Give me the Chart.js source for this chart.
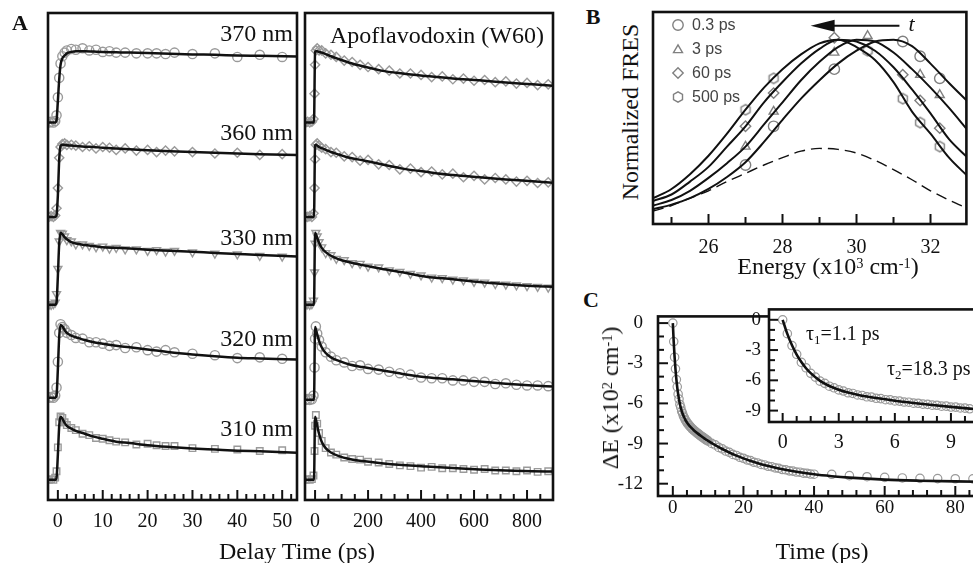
<!DOCTYPE html>
<html>
<head>
<meta charset="utf-8">
<script src="https://cdn.jsdelivr.net/npm/chart.js@4.4.0/dist/chart.umd.min.js"></script>
<style>
html, body { margin: 0; padding: 0; background: #fff; overflow: hidden; }
#fig { position: relative; width: 973px; height: 563px; overflow: hidden; background: #fff;
       font-family: 'Liberation Serif', 'Times New Roman', serif; color: #111; }
#fig canvas { position: absolute; }
.txt { position: absolute; white-space: nowrap; line-height: 1; font-size: 24px; }
.c { transform: translate(-50%, -50%); }
.r { transform: translate(-100%, -50%); }
.l { transform: translate(0, -50%); }
.rot { transform: translate(-50%, -50%) rotate(-90deg); }
.tag { font-weight: bold; font-size: 22px; }
.txt sup { font-size: 0.6em; position: relative; top: -0.45em; vertical-align: 0; line-height: 0; }
.txt sub { font-size: 0.65em; position: relative; top: 0.3em; vertical-align: 0; line-height: 0; }
</style>
</head>
<body>
<div id="fig">
  <canvas id="aLeft" width="310" height="540" style="left:0;top:0"></canvas>
  <canvas id="aRight" width="270" height="540" style="left:295px;top:0"></canvas>
  <canvas id="bChart" width="328" height="262" style="left:645px;top:0"></canvas>
  <canvas id="cMain" width="396" height="250" style="left:600px;top:290px"></canvas>
  <canvas id="cInset" width="270" height="170" style="left:720px;top:290px"></canvas>

  <div class="txt tag c" style="left:20px;top:23px">A</div>
  <div class="txt tag c" style="left:593px;top:17px">B</div>
  <div class="txt tag c" style="left:591px;top:300px">C</div>

  <div class="txt r" style="left:293px;top:33px">370 nm</div>
  <div class="txt r" style="left:293px;top:132px">360 nm</div>
  <div class="txt r" style="left:293px;top:237px">330 nm</div>
  <div class="txt r" style="left:293px;top:338px">320 nm</div>
  <div class="txt r" style="left:293px;top:428px">310 nm</div>
  <div class="txt c" style="left:437px;top:35px">Apoflavodoxin (W60)</div>
  <div class="txt c" style="left:297px;top:551px">Delay Time (ps)</div>

  <div class="txt rot" style="left:630px;top:112px">Normalized FRES</div>
  <div class="txt c" style="left:828px;top:266px">Energy (x10<sup>3</sup> cm<sup>-1</sup>)</div>

  <div class="txt rot" style="left:610px;top:398px">&Delta;E (x10<sup>2</sup> cm<sup>-1</sup>)</div>
  <div class="txt c" style="left:822px;top:551px">Time (ps)</div>
  <div class="txt l" style="left:806px;top:333px;font-size:20px">&tau;<sub>1</sub>=1.1 ps</div>
  <div class="txt l" style="left:887px;top:368px;font-size:20px">&tau;<sub>2</sub>=18.3 ps</div>
</div>

<script>
// ---------- Panel A: kinetic traces (normalised, one row per wavelength) ----------
const delayL = [-2.2, -0.6, -0.3, 0, 0.3, 0.6, 1, 1.5, 2, 3, 4, 6, 8, 10, 13, 16, 20, 25, 30, 35, 40, 45, 53.3];
const fitL370 = [0, 0, 0.03, 0.3, 0.6, 0.8, 0.89, 0.93, 0.96, 0.98, 0.99, 0.99, 0.985, 0.98, 0.975, 0.97, 0.965, 0.955, 0.945, 0.94, 0.93, 0.925, 0.915];
const fitL360 = [0, 0, 0.02, 0.3, 0.8, 0.98, 1.0, 1.0, 0.995, 0.99, 0.985, 0.975, 0.97, 0.96, 0.95, 0.94, 0.925, 0.91, 0.9, 0.89, 0.88, 0.87, 0.86];
const fitL330 = [0, 0, 0.03, 0.4, 0.85, 1.0, 0.98, 0.94, 0.91, 0.87, 0.85, 0.83, 0.815, 0.8, 0.79, 0.78, 0.765, 0.75, 0.735, 0.72, 0.705, 0.69, 0.67];
const fitL320 = [0, 0, 0.03, 0.4, 0.85, 1.01, 0.99, 0.94, 0.9, 0.86, 0.84, 0.8, 0.77, 0.75, 0.72, 0.7, 0.67, 0.63, 0.6, 0.575, 0.555, 0.545, 0.53];
const fitL310 = [0, 0, 0.03, 0.35, 0.75, 0.875, 0.85, 0.79, 0.75, 0.71, 0.68, 0.64, 0.6, 0.57, 0.53, 0.51, 0.48, 0.455, 0.435, 0.42, 0.405, 0.395, 0.375];

const dotDelayL = [-2, -1.5, -1, -0.6, -0.3, 0, 0.3, 0.6, 1, 1.5, 2, 3, 4, 5.5, 7, 8.5, 10, 11.5, 13, 15, 17.5, 20, 22, 24, 26, 30, 35, 40, 45, 50];
const dotL370 = [0, 0.01, 0, 0.02, 0.1, 0.35, 0.62, 0.82, 0.92, 0.97, 1.0, 1.02, 1.01, 1.03, 1.0, 1.01, 0.98, 0.99, 0.97, 0.97, 0.96, 0.96, 0.96, 0.95, 0.97, 0.95, 0.96, 0.91, 0.94, 0.91];
const dotL360 = [0, 0.01, 0, 0.02, 0.12, 0.4, 0.82, 0.97, 1.01, 1.02, 1.0, 1.0, 0.99, 0.97, 0.98, 0.95, 0.97, 0.96, 0.93, 0.95, 0.92, 0.93, 0.9, 0.92, 0.91, 0.9, 0.88, 0.89, 0.86, 0.87];
const dotL330 = [0, 0, 0.01, 0.03, 0.15, 0.5, 0.88, 1.0, 0.99, 0.95, 0.9, 0.88, 0.84, 0.84, 0.82, 0.8, 0.81, 0.78, 0.79, 0.77, 0.77, 0.75, 0.76, 0.74, 0.75, 0.73, 0.71, 0.7, 0.68, 0.67];
const dotL320 = [0, 0.01, 0, 0.03, 0.14, 0.5, 0.9, 1.02, 0.98, 0.95, 0.9, 0.87, 0.83, 0.82, 0.77, 0.77, 0.75, 0.72, 0.73, 0.69, 0.7, 0.66, 0.64, 0.66, 0.63, 0.61, 0.59, 0.55, 0.56, 0.54];
const dotL310 = [0, 0.01, 0, 0.03, 0.12, 0.45, 0.8, 0.88, 0.86, 0.8, 0.76, 0.72, 0.69, 0.64, 0.62, 0.58, 0.57, 0.55, 0.53, 0.52, 0.49, 0.5, 0.48, 0.47, 0.47, 0.44, 0.43, 0.42, 0.4, 0.41];

const delayR = [-38, -4, 0, 3, 8, 15, 25, 40, 60, 90, 130, 180, 250, 330, 420, 520, 620, 720, 820, 898];
const fitR370 = [0, 0, 0.98, 0.99, 0.99, 0.98, 0.97, 0.95, 0.92, 0.88, 0.83, 0.78, 0.72, 0.68, 0.645, 0.61, 0.585, 0.555, 0.53, 0.51];
const fitR360 = [0, 0, 0.99, 1.0, 0.99, 0.97, 0.955, 0.93, 0.9, 0.865, 0.82, 0.785, 0.73, 0.67, 0.625, 0.58, 0.55, 0.52, 0.495, 0.475];
const fitR330 = [0, 0, 1.0, 0.98, 0.93, 0.86, 0.79, 0.73, 0.68, 0.63, 0.59, 0.55, 0.5, 0.45, 0.39, 0.355, 0.315, 0.285, 0.26, 0.25];
const fitR320 = [0, 0, 1.01, 0.98, 0.91, 0.82, 0.73, 0.65, 0.59, 0.54, 0.49, 0.455, 0.41, 0.36, 0.315, 0.285, 0.255, 0.225, 0.2, 0.185];
const fitR310 = [0, 0, 0.875, 0.84, 0.75, 0.64, 0.53, 0.44, 0.38, 0.33, 0.29, 0.26, 0.23, 0.205, 0.185, 0.165, 0.145, 0.13, 0.12, 0.115];

const dotDelayR = [-35, -28, -20, -12, -6, -2, 0, 3, 8, 15, 25, 40, 60, 80, 110, 140, 170, 200, 240, 280, 320, 360, 400, 440, 480, 520, 560, 600, 640, 680, 720, 760, 800, 840, 880];
const dotR370 = [0, 0.01, 0, 0.01, 0.05, 0.4, 0.8, 1.0, 1.03, 1.0, 1.0, 0.96, 0.94, 0.91, 0.86, 0.84, 0.8, 0.77, 0.74, 0.72, 0.68, 0.68, 0.66, 0.63, 0.64, 0.6, 0.61, 0.58, 0.59, 0.56, 0.57, 0.54, 0.55, 0.52, 0.53];
const dotR360 = [0, 0, 0.01, 0, 0.05, 0.4, 0.8, 1.0, 1.02, 0.99, 0.96, 0.94, 0.9, 0.89, 0.84, 0.83, 0.78, 0.79, 0.73, 0.72, 0.66, 0.67, 0.62, 0.63, 0.59, 0.6, 0.55, 0.57, 0.52, 0.54, 0.52, 0.49, 0.5, 0.47, 0.48];
const dotR330 = [0, 0.01, 0, 0.01, 0.06, 0.45, 0.85, 1.0, 0.95, 0.87, 0.8, 0.72, 0.69, 0.64, 0.62, 0.58, 0.57, 0.53, 0.52, 0.48, 0.46, 0.43, 0.41, 0.38, 0.37, 0.35, 0.34, 0.32, 0.31, 0.29, 0.28, 0.27, 0.26, 0.25, 0.24];
const dotR320 = [0, 0.01, 0, 0.01, 0.06, 0.45, 0.85, 1.02, 0.92, 0.83, 0.74, 0.66, 0.6, 0.55, 0.52, 0.47, 0.48, 0.43, 0.42, 0.39, 0.37, 0.35, 0.31, 0.3, 0.3, 0.27, 0.27, 0.25, 0.25, 0.22, 0.23, 0.21, 0.2, 0.2, 0.19];
const dotR310 = [0, 0.01, 0, 0.01, 0.06, 0.4, 0.75, 0.9, 0.78, 0.65, 0.54, 0.44, 0.38, 0.35, 0.31, 0.29, 0.28, 0.25, 0.24, 0.22, 0.2, 0.19, 0.17, 0.18, 0.16, 0.16, 0.15, 0.14, 0.15, 0.13, 0.13, 0.12, 0.13, 0.11, 0.12];

// ---------- Panel B: normalised emission spectra ----------
const energy = [24.5, 25, 25.5, 26, 26.5, 27, 27.5, 28, 28.5, 29, 29.5, 30, 30.5, 31, 31.5, 32, 32.5, 33];
const fres03 = [0.08, 0.105, 0.14, 0.19, 0.255, 0.335, 0.445, 0.565, 0.68, 0.78, 0.87, 0.94, 0.99, 1.0, 0.965, 0.87, 0.765, 0.665];
const fres3 = [0.10, 0.13, 0.18, 0.25, 0.33, 0.42, 0.54, 0.66, 0.78, 0.88, 0.96, 1.0, 0.99, 0.93, 0.84, 0.74, 0.63, 0.51];
const fres60 = [0.125, 0.16, 0.23, 0.31, 0.42, 0.53, 0.66, 0.77, 0.87, 0.95, 1.0, 0.99, 0.94, 0.85, 0.73, 0.6, 0.46, 0.36];
const fres500 = [0.14, 0.19, 0.27, 0.37, 0.49, 0.62, 0.74, 0.84, 0.92, 0.98, 1.0, 0.96, 0.89, 0.77, 0.61, 0.49, 0.36, 0.26];
const fresDashed = [0.07, 0.10, 0.14, 0.18, 0.23, 0.275, 0.32, 0.36, 0.395, 0.41, 0.405, 0.385, 0.345, 0.295, 0.24, 0.18, 0.13, 0.085];

const energyDots = [27.0, 27.76, 29.4, 30.3, 31.25, 31.72, 32.25];
const dot03 = [0.32, 0.53, 0.84, null, 0.99, 0.91, 0.79];
const dot3 = [0.42, 0.61, 0.93, 1.02, null, 0.81, 0.70];
const dot60 = [0.53, 0.71, 1.01, null, 0.81, 0.67, 0.52];
const dot500 = [0.62, 0.79, null, 0.94, 0.68, 0.55, 0.42];
const spectraLabels = ['0.3 ps', '3 ps', '60 ps', '500 ps'];

// ---------- Panel C: spectral shift ----------
const shiftFitTime = [0, 0.25, 0.5, 0.75, 1, 1.25, 1.5, 2, 2.5, 3, 3.5, 4, 4.5, 5, 6, 7, 8, 9, 10, 12, 14, 16, 18, 20, 22, 25, 28, 30, 35, 40, 45, 50, 60, 70, 80, 90];
const shiftFit = [0, -1.40, -2.53, -3.45, -4.19, -4.80, -5.29, -6.05, -6.56, -6.93, -7.21, -7.43, -7.61, -7.76, -8.02, -8.24, -8.44, -8.63, -8.80, -9.12, -9.41, -9.67, -9.90, -10.11, -10.29, -10.54, -10.74, -10.86, -11.11, -11.30, -11.44, -11.55, -11.70, -11.78, -11.83, -11.86];

const shiftTime = [0, 0.25, 0.5, 0.75, 1, 1.25, 1.5, 1.75, 2, 2.25, 2.5, 2.75, 3, 3.25, 3.5, 3.75, 4, 4.25, 4.5, 4.75,
  5, 5.25, 5.5, 5.75, 6, 6.25, 6.5, 6.75, 7, 7.25, 7.5, 7.75, 8, 8.25, 8.5, 8.75, 9, 9.25, 9.5, 9.75, 10,
  11, 12, 13, 14, 15, 16, 17, 18, 19, 20, 21, 22, 23, 24, 25, 26, 27, 28, 29, 30, 31, 32, 33, 34, 35, 36, 37, 38, 39, 40,
  45, 50, 55, 60, 65, 70, 75, 80, 85, 90];
const shiftData = [0, -1.38, -2.55, -3.42, -4.22, -4.76, -5.31, -5.68, -6.08, -6.30, -6.58, -6.74, -6.95, -7.06, -7.23, -7.30, -7.45, -7.50, -7.63, -7.66,
  -7.78, -7.81, -7.92, -7.94, -8.04, -8.06, -8.15, -8.17, -8.26, -8.27, -8.36, -8.38, -8.46, -8.47, -8.56, -8.56, -8.65, -8.66, -8.74, -8.75, -8.82,
  -8.99, -9.10, -9.29, -9.40, -9.56, -9.66, -9.81, -9.89, -10.03, -10.10, -10.22, -10.28, -10.40, -10.45, -10.56, -10.60, -10.70, -10.73, -10.82, -10.85,
  -10.94, -10.96, -11.04, -11.06, -11.13, -11.14, -11.21, -11.22, -11.28, -11.29,
  -11.30, -11.40, -11.48, -11.53, -11.57, -11.60, -11.62, -11.63, -11.64, -11.65];

// ---------- styling ----------
const SERIF = "'Liberation Serif', 'Times New Roman', serif";
const INK = '#111';
const DOT = '#9a9a9a';
const DOT_B = '#808080';
Chart.defaults.font.family = SERIF;
Chart.defaults.color = INK;

// vertical stacking of the wavelength rows inside panel A
const rowShiftL = [5.24, 3.93, 2.71, 1.42, 0.28];
const rowShiftR = [5.24, 3.93, 2.71, 1.39, 0.28];

function pts(xs, ys, shift) {
  const out = [];
  xs.forEach((x, i) => {
    if (ys[i] !== null) out.push({ x: x, y: ys[i] + (shift || 0) });
  });
  return out;
}

function hexagon(r, color, lw) {
  const c = document.createElement('canvas');
  const s = Math.ceil(2 * r + lw + 2);
  c.width = s; c.height = s;
  const g = c.getContext('2d');
  g.strokeStyle = color; g.lineWidth = lw;
  g.beginPath();
  for (let k = 0; k < 6; k++) {
    const a = Math.PI / 6 + k * Math.PI / 3;
    const px = s / 2 + r * Math.cos(a), py = s / 2 + r * Math.sin(a);
    if (k) g.lineTo(px, py); else g.moveTo(px, py);
  }
  g.closePath(); g.stroke();
  return c;
}
const hexMark = hexagon(5.2, DOT_B, 1.4);

const isMult = (v, m) => Math.abs(v / m - Math.round(v / m)) < 1e-6;

// box around the plot area plus inward tick marks taken from the scales
const framePlugin = {
  id: 'frame',
  beforeDraw(chart, args, opts) {
    if (!opts.fill) return;
    const a = chart.chartArea, ctx = chart.ctx;
    ctx.save();
    ctx.fillStyle = '#fff';
    ctx.fillRect(a.left, a.top, a.right - a.left, a.bottom - a.top);
    ctx.restore();
  },
  afterDraw(chart, args, opts) {
    const { ctx, chartArea: a } = chart;
    ctx.save();
    ctx.strokeStyle = INK;
    ctx.lineWidth = opts.tickWidth || 2;
    ['x', 'y'].forEach(id => {
      const t = opts[id];
      if (!t) return;
      const scale = chart.scales[id];
      scale.ticks.forEach(tk => {
        const p = scale.getPixelForValue(tk.value);
        const len = t.major(tk.value) ? t.long : t.short;
        if (id === 'x') {
          if (p < a.left + 2 || p > a.right - 2) return;
          ctx.beginPath(); ctx.moveTo(p, a.bottom); ctx.lineTo(p, a.bottom - len); ctx.stroke();
        } else {
          if (p < a.top + 2 || p > a.bottom - 2) return;
          ctx.beginPath(); ctx.moveTo(a.left, p); ctx.lineTo(a.left + len, p); ctx.stroke();
        }
      });
    });
    ctx.lineWidth = opts.width || 2.6;
    ctx.strokeRect(a.left, a.top, a.right - a.left, a.bottom - a.top);
    ctx.restore();
  }
};

function xAxis(min, max, step, major, padding, height, size) {
  return {
    type: 'linear', min: min, max: max,
    grid: { display: false, drawTicks: false },
    border: { display: false },
    ticks: {
      stepSize: step, autoSkip: false, maxRotation: 0, includeBounds: false,
      padding: padding, color: INK, font: { size: size || 20 },
      callback: v => major(v) ? String(v) : ''
    },
    afterFit: s => { s.height = height; }
  };
}

function yAxis(min, max, step, major, padding, width, size) {
  return {
    type: 'linear', min: min, max: max,
    grid: { display: false, drawTicks: false },
    border: { display: false },
    ticks: {
      stepSize: step, autoSkip: false, includeBounds: false,
      padding: padding, color: INK, font: { size: size || 19 },
      callback: v => major(v) ? String(v) : ''
    },
    afterFit: s => { s.width = width; }
  };
}

const baseOptions = {
  responsive: false, animation: false, events: [],
};

function tracePanel(id, pad, xMin, xMax, step, major, fitX, fits, dotX, dots, shifts, shapes) {
  const datasets = [];
  fits.forEach((f, i) => datasets.push({
    data: pts(fitX, f, shifts[i]), showLine: true, borderColor: INK, borderWidth: 2.5,
    pointRadius: 0, cubicInterpolationMode: 'monotone', order: 1
  }));
  dots.forEach((d, i) => datasets.push({
    data: pts(dotX, d, shifts[i]), showLine: false,
    pointStyle: shapes[i][0], rotation: shapes[i][1], pointRadius: 4.6,
    borderColor: DOT, backgroundColor: 'rgba(0,0,0,0)', borderWidth: 1.4, order: 2
  }));
  return new Chart(document.getElementById(id), {
    type: 'scatter',
    data: { datasets },
    options: Object.assign({}, baseOptions, {
      layout: { padding: pad },
      plugins: {
        legend: { display: false }, tooltip: { enabled: false },
        frame: { x: { major: major, long: 10, short: 6 } }
      },
      scales: {
        x: xAxis(xMin, xMax, step, major, 10, 40),
        y: { display: false, min: 0, max: 6.76 }
      }
    }),
    plugins: [framePlugin]
  });
}

tracePanel('aLeft', { left: 48, right: 13, top: 13, bottom: 0 }, -2.2, 53.3, 2, v => isMult(v, 10),
  delayL, [fitL370, fitL360, fitL330, fitL320, fitL310],
  dotDelayL, [dotL370, dotL360, dotL330, dotL320, dotL310], rowShiftL,
  [['circle', 0], ['rectRot', 0], ['triangle', 180], ['circle', 0], ['rect', 0]]);

tracePanel('aRight', { left: 10, right: 12, top: 13, bottom: 0 }, -38, 898, 50, v => isMult(v, 200),
  delayR, [fitR370, fitR360, fitR330, fitR320, fitR310],
  dotDelayR, [dotR370, dotR360, dotR330, dotR320, dotR310], rowShiftR,
  [['rectRot', 0], ['rectRot', 0], ['triangle', 180], ['circle', 0], ['rect', 0]]);

// ---------- Panel B ----------
function drawMark(ctx, style, x, y, r) {
  if (typeof style !== 'string') {
    ctx.drawImage(style, x - style.width / 2, y - style.height / 2);
    return;
  }
  ctx.beginPath();
  if (style === 'circle') {
    ctx.arc(x, y, r, 0, 2 * Math.PI);
  } else if (style === 'triangle') {
    for (let k = 0; k < 3; k++) {
      const a = -Math.PI / 2 + k * 2 * Math.PI / 3;
      const px = x + r * Math.cos(a), py = y + r * Math.sin(a) + r * 0.2;
      if (k) ctx.lineTo(px, py); else ctx.moveTo(px, py);
    }
    ctx.closePath();
  } else if (style === 'rectRot') {
    ctx.moveTo(x, y - r); ctx.lineTo(x + r, y); ctx.lineTo(x, y + r); ctx.lineTo(x - r, y); ctx.closePath();
  }
  ctx.stroke();
}

const markerB = { showLine: false, pointRadius: 5.2, borderColor: DOT_B, backgroundColor: 'rgba(0,0,0,0)', borderWidth: 1.4, order: 2 };
const lineB = { showLine: true, pointRadius: 0, borderColor: INK, borderWidth: 2, cubicInterpolationMode: 'monotone', order: 1 };
new Chart(document.getElementById('bChart'), {
  type: 'scatter',
  data: {
    datasets: [
      Object.assign({ label: spectraLabels[0], data: pts(energyDots, dot03), pointStyle: 'circle' }, markerB),
      Object.assign({ label: spectraLabels[1], data: pts(energyDots, dot3), pointStyle: 'triangle' }, markerB),
      Object.assign({ label: spectraLabels[2], data: pts(energyDots, dot60), pointStyle: 'rectRot' }, markerB),
      Object.assign({ label: spectraLabels[3], data: pts(energyDots, dot500), pointStyle: hexMark }, markerB),
      Object.assign({ data: pts(energy, fres03) }, lineB),
      Object.assign({ data: pts(energy, fres3) }, lineB),
      Object.assign({ data: pts(energy, fres60) }, lineB),
      Object.assign({ data: pts(energy, fres500) }, lineB),
      Object.assign({ data: pts(energy, fresDashed), borderDash: [11, 6], borderWidth: 1.4 }, { showLine: true, pointRadius: 0, borderColor: INK, cubicInterpolationMode: 'monotone', order: 1 })
    ]
  },
  options: Object.assign({}, baseOptions, {
    layout: { padding: { left: 8, right: 2, top: 12, bottom: 0 } },
    plugins: {
      tooltip: { enabled: false },
      legend: { display: false },
      frame: { x: { major: v => isMult(v, 2), long: 10, short: 7 } },
      timeArrow: { from: 28.76, to: 31.16, y: 1.075 },
      spectraKey: { dx: 25, dy: 13, row: 24, gap: 14 }
    },
    scales: {
      x: xAxis(24.5, 32.97, 1, v => isMult(v, 2), 12, 38),
      y: { display: false, min: 0, max: 1.15 }
    }
  }),
  plugins: [framePlugin, {
    id: 'timeArrow',
    afterDraw(chart, args, o) {
      const { ctx, scales } = chart;
      const x0 = scales.x.getPixelForValue(o.from), x1 = scales.x.getPixelForValue(o.to);
      const y = scales.y.getPixelForValue(o.y);
      ctx.save();
      ctx.strokeStyle = INK; ctx.fillStyle = INK; ctx.lineWidth = 2;
      ctx.beginPath(); ctx.moveTo(x0 + 20, y); ctx.lineTo(x1, y); ctx.stroke();
      ctx.beginPath(); ctx.moveTo(x0, y); ctx.lineTo(x0 + 24, y - 6); ctx.lineTo(x0 + 24, y + 6); ctx.closePath(); ctx.fill();
      ctx.font = 'italic 22px ' + SERIF; ctx.textBaseline = 'middle'; ctx.textAlign = 'left';
      ctx.fillText('t', x1 + 9, y - 1);
      ctx.restore();
    }
  }, {
    // legend drawn inside the plot area, top-left, from the marker datasets
    id: 'spectraKey',
    afterDraw(chart, args, o) {
      const { ctx, chartArea: a } = chart;
      ctx.save();
      ctx.font = "16px 'Liberation Sans', Arial, sans-serif";
      ctx.textBaseline = 'middle'; ctx.textAlign = 'left';
      chart.data.datasets.slice(0, 4).forEach((ds, i) => {
        const x = a.left + o.dx, y = a.top + o.dy + i * o.row;
        ctx.strokeStyle = DOT_B; ctx.lineWidth = 1.4;
        drawMark(ctx, ds.pointStyle, x, y, 5.2);
        ctx.fillStyle = '#444';
        ctx.fillText(ds.label, x + o.gap, y + 1);
      });
      ctx.restore();
    }
  }]
});

// ---------- Panel C ----------
function shiftChart(id, pad, xs, ys, inset) {
  return new Chart(document.getElementById(id), {
    type: 'scatter',
    data: {
      datasets: [
        { data: pts(shiftFitTime, shiftFit), showLine: true, pointRadius: 0, borderColor: INK, borderWidth: 2.6, cubicInterpolationMode: 'monotone', order: 1 },
        { data: pts(shiftTime, shiftData), showLine: false, pointRadius: 4.2, pointStyle: 'circle', borderColor: DOT, backgroundColor: 'rgba(0,0,0,0)', borderWidth: 1.2, order: 2 }
      ]
    },
    options: Object.assign({}, baseOptions, {
      layout: { padding: pad },
      plugins: {
        legend: { display: false }, tooltip: { enabled: false },
        frame: { fill: inset, x: xs.tick, y: ys.tick }
      },
      scales: { x: xs.axis, y: ys.axis }
    }),
    plugins: [framePlugin]
  });
}

const by3 = v => isMult(v, 3);
shiftChart('cMain', { left: 0, right: 0, top: 16, bottom: 0 },
  { axis: xAxis(-4.2, 90, 4, v => isMult(v, 20), 1, 44, 19), tick: { major: v => isMult(v, 20), long: 10, short: 6 } },
  { axis: yAxis(-12.92, 0.5, 1, by3, 15, 58, 19), tick: { major: by3, long: 10, short: 6 } }, false);

shiftChart('cInset', { left: 0, right: 0, top: 16, bottom: 0 },
  { axis: xAxis(-0.73, 10.8, 0.75, by3, 9, 38, 20), tick: { major: by3, long: 9, short: 6 } },
  { axis: yAxis(-10.13, 1.03, 1, by3, 8, 49, 19), tick: { major: by3, long: 9, short: 6 } }, true);
</script>
</body>
</html>
